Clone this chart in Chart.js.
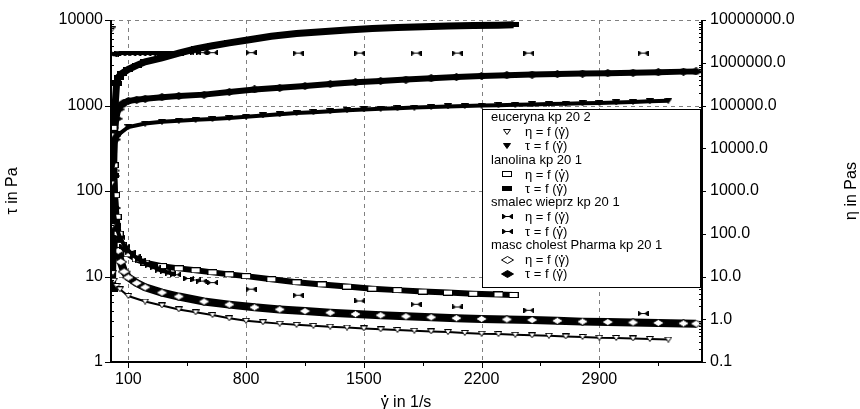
<!DOCTYPE html>
<html>
<head>
<meta charset="utf-8">
<script src="https://cdn.jsdelivr.net/npm/chart.js@4.4.1/dist/chart.umd.min.js"></script>
<style>
  html, body { margin: 0; padding: 0; background: #fff; }
  canvas { display: block; }
</style>
</head>
<body>
<canvas id="flow" width="860" height="409"></canvas>
<script>
/* ── values ── */
const eucShear = [0.3, 1, 2, 4, 8, 15, 30, 50, 100, 200, 300, 400, 500, 600, 700, 800, 900, 1000, 1100, 1200, 1300, 1400, 1500, 1600, 1700, 1800, 1900, 2000, 2100, 2200, 2300, 2400, 2500, 2600, 2700, 2800, 2900, 3000, 3100, 3200, 3310];
const eucTau = [20, 60, 120, 200, 280, 350, 420, 470, 560, 615, 645, 665, 680, 695, 715, 740, 765, 790, 815, 835, 855, 880, 900, 915, 930, 945, 960, 975, 988, 1000, 1010, 1020, 1030, 1040, 1050, 1060, 1070, 1085, 1100, 1120, 1140];
const eucEta = [6e6, 2e4, 1500, 150, 12, 8, 6, 5, 3.5, 2.6, 2.1, 1.7, 1.45, 1.25, 1.05, 0.92, 0.85, 0.79, 0.74, 0.7, 0.67, 0.64, 0.61, 0.58, 0.56, 0.54, 0.52, 0.5, 0.48, 0.46, 0.45, 0.435, 0.42, 0.41, 0.395, 0.385, 0.37, 0.365, 0.355, 0.345, 0.335];

const lanShear = [6, 12, 20, 30, 42, 60, 100, 150, 200, 300, 400, 500, 600, 700, 800, 950, 1100, 1250, 1400, 1550, 1700, 1850, 2000, 2150, 2300, 2390];
const lanTau = [7, 150, 900, 1800, 2150, 2350, 2650, 2950, 3250, 3600, 4100, 4600, 5000, 5400, 5800, 6450, 6950, 7300, 7650, 7950, 8150, 8350, 8500, 8600, 8700, 8800];
const lanEta = [3e4, 4000, 800, 250, 100, 55, 33, 25, 21, 17.5, 15.5, 14, 12.5, 11.2, 10.2, 8.6, 7.3, 6.5, 5.8, 5.2, 4.8, 4.45, 4.2, 3.95, 3.8, 3.7];

const smaShear = [2, 10, 25, 50, 80, 110, 140, 170, 200, 230, 260, 290, 320, 350, 380, 460, 500, 535, 600, 830, 1110, 1475, 1810, 2055, 2480, 3160];
const smaTau = [3900, 4000, 4050, 4100, 4100, 4100, 4100, 4100, 4100, 4100, 4100, 4100, 4100, 4100, 4100, 4150, 4150, 4150, 4150, 4150, 4100, 4100, 4100, 4100, 4100, 4100];
const smaEta = [2000, 400, 160, 82, 51, 37, 29, 24, 20.5, 18, 16, 14, 13, 12, 11, 9, 8.3, 7.8, 7.2, 5.05, 3.65, 2.68, 2.24, 1.94, 1.62, 1.36];

const masShear = [4, 10, 18, 28, 40, 55, 75, 100, 150, 200, 300, 400, 550, 700, 850, 1000, 1150, 1300, 1450, 1600, 1750, 1900, 2050, 2200, 2350, 2500, 2650, 2800, 2950, 3100, 3250, 3400, 3475];
const masTau = [40, 150, 400, 700, 900, 1000, 1080, 1130, 1170, 1200, 1250, 1290, 1340, 1440, 1540, 1610, 1690, 1780, 1870, 1940, 2010, 2080, 2150, 2220, 2260, 2300, 2330, 2360, 2390, 2420, 2450, 2490, 2500];
const masEta = [3e4, 3000, 400, 90, 40, 22, 13, 9.5, 7, 5.6, 4.2, 3.4, 2.6, 2.2, 1.9, 1.7, 1.55, 1.42, 1.32, 1.24, 1.17, 1.11, 1.06, 1.02, 0.99, 0.96, 0.92, 0.88, 0.86, 0.84, 0.82, 0.8, 0.79];

const xTicks = [100, 800, 1500, 2200, 2900];
const xMinor = [450, 1150, 1850, 2550, 3250];
const tauTicks = [1, 10, 100, 1000, 10000];
const etaTicks = [0.1, 1, 10, 100, 1000, 10000, 100000, 1000000, 10000000];

const materials = ['euceryna kp 20 2', 'lanolina kp 20 1', 'smalec wieprz kp 20 1', 'masc cholest Pharma kp 20 1'];
const etaEntry = 'η = f (γ̇)';
const tauEntry = 'τ = f (γ̇)';
const xTitle = 'γ̇ in 1/s';
const tauTitle = 'τ in Pa';
const etaTitle = 'η in Pas';

const FONT = "'Liberation Sans', Arial, sans-serif";
Chart.defaults.font.family = FONT;
Chart.defaults.color = '#000';

/* ── marker glyphs ── */
function marker(w, h, draw) {
  const c = document.createElement('canvas');
  c.width = w; c.height = h;
  const g = c.getContext('2d');
  g.fillStyle = '#000'; g.strokeStyle = '#000'; g.lineWidth = 1;
  draw(g, w, h);
  return c;
}
function triPath(g, w, h) { g.beginPath(); g.moveTo(0.5, 0.5); g.lineTo(w - 0.5, 0.5); g.lineTo(w / 2, h - 0.5); g.closePath(); }
function diaPath(g, w, h) { g.beginPath(); g.moveTo(0.5, h / 2); g.lineTo(w / 2, 0.5); g.lineTo(w - 0.5, h / 2); g.lineTo(w / 2, h - 0.5); g.closePath(); }

const triOpen = marker(8, 6, (g, w, h) => { triPath(g, w, h); g.fillStyle = '#fff'; g.fill(); g.stroke(); });
const triFill = marker(8, 6, (g, w, h) => { triPath(g, w, h); g.fill(); g.stroke(); });
const rectOpen = marker(10, 6, (g, w, h) => { g.fillStyle = '#fff'; g.fillRect(0, 0, w, h); g.strokeRect(0.5, 0.5, w - 1, h - 1); });
const rectFill = marker(10, 5, (g, w, h) => { g.fillRect(0, 0, w, h); });
const bow = marker(11, 5, (g, w, h) => {
  g.fillRect(0, 0, 1, h); g.fillRect(w - 1, 0, 1, h); g.fillRect(1, 2, w - 2, 1);
  g.beginPath(); g.moveTo(1, 0); g.lineTo(4.5, h / 2); g.lineTo(1, h); g.closePath(); g.fill();
  g.beginPath(); g.moveTo(w - 1, 0); g.lineTo(w - 4.5, h / 2); g.lineTo(w - 1, h); g.closePath(); g.fill();
});
const diaOpen = marker(13, 8, (g, w, h) => { diaPath(g, w, h); g.fillStyle = '#fff'; g.fill(); g.stroke(); });
const diaFill = marker(13, 8, (g, w, h) => { diaPath(g, w, h); g.fill(); g.stroke(); });

const legendMarks = [[triOpen, triFill], [rectOpen, rectFill], [bow, bow], [diaOpen, diaFill]];

function pts(xs, ys) { return xs.map((x, i) => ({ x, y: ys[i] })); }
function series(label, xs, ys, axis, glyph, lineW, extra) {
  return Object.assign({
    label, data: pts(xs, ys), yAxisID: axis,
    showLine: lineW > 0, borderColor: '#000', borderWidth: lineW, tension: 0,
    pointStyle: glyph, pointRadius: 3, backgroundColor: '#000'
  }, extra || {});
}
// smalec was logged densely only at low shear rates: join just that part
const denseOnly = { segment: { borderColor: c => smaShear[c.p1DataIndex] <= 380 ? '#000' : 'rgba(0,0,0,0)' } };

const datasets = [
  series('euceryna η', eucShear, eucEta, 'yR', triOpen, 2, { segment: { borderColor: c => c.p0DataIndex === 0 ? 'rgba(0,0,0,0)' : '#000' } }),
  series('euceryna τ', eucShear, eucTau, 'yL', triFill, 4),
  series('smalec η', smaShear, smaEta, 'yR', bow, 4, denseOnly),
  series('smalec τ', smaShear, smaTau, 'yL', bow, 4, denseOnly),
  series('lanolina η', lanShear, lanEta, 'yR', rectOpen, 6),
  series('lanolina τ', lanShear, lanTau, 'yL', rectFill, 7),
  series('masc η', masShear, masEta, 'yR', diaOpen, 8),
  series('masc τ', masShear, masTau, 'yL', diaFill, 6)
];

/* text with a combining dot (γ̇): draw the dot by hand, the font has no mark */
function dotText(ctx, text, x, base, size, align) {
  const parts = text.split('\u0307');
  const plain = parts.join('');
  let x0 = x;
  if (align === 'center') x0 = x - ctx.measureText(plain).width / 2;
  ctx.textAlign = 'left'; ctx.textBaseline = 'alphabetic';
  ctx.fillText(plain, x0, base);
  let acc = '';
  for (let i = 0; i < parts.length - 1; i++) {
    acc += parts[i];
    const cw = ctx.measureText(parts[i].slice(-1)).width;
    const cx = x0 + ctx.measureText(acc).width - cw / 2;
    const d = size * 0.13;
    ctx.fillRect(Math.round(cx - d / 2), Math.round(base - size * 0.72), Math.max(1.5, d), Math.max(1.5, d));
  }
}

/* ── frame: dashed grid, axis lines, ticks, titles, legend box ── */
const frame = {
  id: 'frame',
  beforeDatasetsDraw(chart) {
    const { ctx, chartArea: a, scales: { x, yL } } = chart;
    ctx.save();
    ctx.strokeStyle = '#808080'; ctx.lineWidth = 1; ctx.setLineDash([4, 4]);
    ctx.beginPath();
    xTicks.forEach(v => { const px = Math.round(x.getPixelForValue(v)) + 0.5; ctx.moveTo(px, a.top); ctx.lineTo(px, a.bottom); });
    tauTicks.forEach(v => { const py = Math.round(yL.getPixelForValue(v)) + 0.5; ctx.moveTo(a.left, py); ctx.lineTo(a.right, py); });
    ctx.stroke();
    ctx.restore();
  },
  afterDatasetsDraw(chart) {
    const { ctx, chartArea: a, scales: { x, yL, yR } } = chart;
    ctx.save();
    ctx.strokeStyle = '#000'; ctx.lineWidth = 2;
    ctx.beginPath();
    ctx.moveTo(a.left, a.top); ctx.lineTo(a.left, a.bottom); ctx.lineTo(a.right, a.bottom); ctx.lineTo(a.right, a.top);
    ctx.stroke();

    ctx.lineWidth = 1;
    ctx.beginPath();
    xTicks.forEach(v => { const px = Math.round(x.getPixelForValue(v)) + 0.5; ctx.moveTo(px, a.bottom); ctx.lineTo(px, a.bottom + 6); });
    xMinor.forEach(v => { const px = Math.round(x.getPixelForValue(v)) + 0.5; ctx.moveTo(px, a.bottom); ctx.lineTo(px, a.bottom + 4); });
    tauTicks.forEach((d, i) => {
      const py = Math.round(yL.getPixelForValue(d)) + 0.5;
      ctx.moveTo(a.left - 6, py); ctx.lineTo(a.left, py);
      if (i < tauTicks.length - 1) for (let k = 2; k < 10; k++) {
        const my = Math.round(yL.getPixelForValue(d * k)) + 0.5;
        ctx.moveTo(a.left, my); ctx.lineTo(a.left + 3, my);
      }
    });
    etaTicks.forEach((d, i) => {
      const py = Math.round(yR.getPixelForValue(d)) + 0.5;
      ctx.moveTo(a.right, py); ctx.lineTo(a.right + 4, py);
      if (i < etaTicks.length - 1) for (let k = 2; k < 10; k++) {
        const my = Math.round(yR.getPixelForValue(d * k)) + 0.5;
        ctx.moveTo(a.right - 3, my); ctx.lineTo(a.right, my);
      }
    });
    ctx.stroke();

    // axis titles
    ctx.fillStyle = '#000';
    ctx.font = '16px ' + FONT;
    dotText(ctx, xTitle, 406, 407, 16, 'center');
    ctx.textAlign = 'center'; ctx.textBaseline = 'middle';
    ctx.translate(13, 191); ctx.rotate(-Math.PI / 2); ctx.fillText(tauTitle, 0, 0);
    ctx.setTransform(1, 0, 0, 1, 0, 0);
    ctx.translate(852, 191); ctx.rotate(-Math.PI / 2); ctx.fillText(etaTitle, 0, 0);
    ctx.restore();
  },
  afterDraw(chart) {
    const ctx = chart.ctx;
    const bx = 482, by = 109, bw = 218, bh = 178, row = 14.2, top = 117.5;
    ctx.save();
    ctx.fillStyle = '#fff'; ctx.fillRect(bx, by, bw, bh);
    ctx.strokeStyle = '#000'; ctx.lineWidth = 1; ctx.strokeRect(bx + 0.5, by + 0.5, bw, bh);
    ctx.fillStyle = '#000';
    ctx.font = '13px ' + FONT;
    materials.forEach((name, g) => {
      const y0 = top + row * 3 * g;
      ctx.textAlign = 'left'; ctx.textBaseline = 'middle';
      ctx.fillText(name, 491, y0);
      [etaEntry, tauEntry].forEach((t, j) => {
        const yy = y0 + row * (j + 1);
        const m = legendMarks[g][j];
        ctx.drawImage(m, Math.round(507 - m.width / 2), Math.round(yy - m.height / 2));
        dotText(ctx, t, 525, yy + 4.5, 13, 'left');
      });
    });
    ctx.restore();
  }
};

new Chart(document.getElementById('flow'), {
  type: 'scatter',
  data: { datasets },
  options: {
    responsive: false,
    animation: false,
    events: [],
    layout: { padding: { top: 20, left: 0, right: 0, bottom: 0 } },
    plugins: { legend: { display: false }, tooltip: { enabled: false } },
    scales: {
      x: {
        type: 'linear', min: -3, max: 3510,
        grid: { display: false, drawTicks: false }, border: { display: false },
        afterBuildTicks: s => { s.ticks = xTicks.map(v => ({ value: v })); },
        afterFit: s => { s.height = 47; },
        ticks: { font: { size: 16 }, padding: 8, maxRotation: 0, autoSkip: false, callback: v => String(v) }
      },
      yL: {
        type: 'logarithmic', position: 'left', min: 1, max: 10000,
        grid: { display: false, drawTicks: false }, border: { display: false },
        afterBuildTicks: s => { s.ticks = tauTicks.map(v => ({ value: v })); },
        afterFit: s => { s.width = 111; },
        ticks: { font: { size: 16 }, padding: 8, autoSkip: false, callback: v => String(v) }
      },
      yR: {
        type: 'logarithmic', position: 'right', min: 0.1, max: 1e7,
        grid: { display: false, drawTicks: false }, border: { display: false },
        afterBuildTicks: s => { s.ticks = etaTicks.map(v => ({ value: v })); },
        afterFit: s => { s.width = 158; },
        ticks: { font: { size: 16 }, padding: 8, autoSkip: false, callback: v => Number(v).toFixed(1) }
      }
    }
  },
  plugins: [frame]
});
</script>
</body>
</html>
